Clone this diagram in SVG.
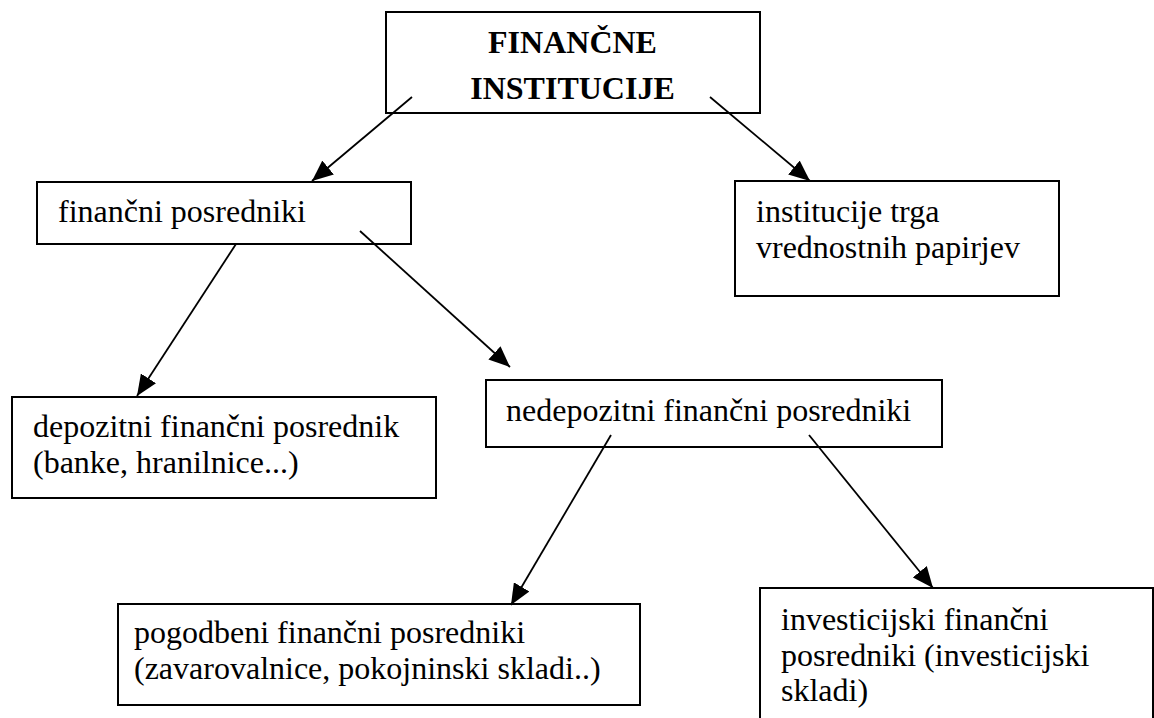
<svg xmlns="http://www.w3.org/2000/svg" width="1154" height="718" viewBox="0 0 1154 718">
<style>
.box{fill:#fff;stroke:#000;stroke-width:2}
.t{font-family:"Liberation Serif","Times New Roman","DejaVu Serif",serif;font-size:32px;fill:#000}
.b{font-weight:bold;text-anchor:middle}
.c{stroke:#000;stroke-width:1.8;fill:none;marker-end:url(#ah)}
</style>
<defs>
<marker id="ah" markerUnits="userSpaceOnUse" markerWidth="22" markerHeight="18" refX="21" refY="9" orient="auto">
<path d="M0,0 L21,9 L0,18 z" fill="#000"/>
</marker>
</defs>
<rect width="1154" height="718" fill="#fff"/>
<g id="n-fin-inst">
<rect class="box" x="386" y="12" width="374" height="101"/>
<text class="t b" x="572.5" y="53">FINANČNE</text>
<text class="t b" x="572.5" y="99">INSTITUCIJE</text>
</g>
<g id="n-fin-posr">
<rect class="box" x="37" y="182" width="374" height="62"/>
<text class="t" x="58" y="222">finančni posredniki</text>
</g>
<g id="n-inst-trga">
<rect class="box" x="735" y="181" width="324" height="115"/>
<text class="t" x="756" y="222">institucije trga</text>
<text class="t" x="756" y="258">vrednostnih papirjev</text>
</g>
<g id="n-depoz">
<rect class="box" x="12" y="397" width="424" height="101"/>
<text class="t" x="33" y="437">depozitni finančni posrednik</text>
<text class="t" x="33" y="473">(banke, hranilnice...)</text>
</g>
<g id="n-nedepoz">
<rect class="box" x="486" y="380" width="456" height="67"/>
<text class="t" x="506" y="421">nedepozitni finančni posredniki</text>
</g>
<g id="n-pogodb">
<rect class="box" x="118" y="604" width="522" height="101"/>
<text class="t" x="134" y="643">pogodbeni finančni posredniki</text>
<text class="t" x="134" y="679">(zavarovalnice, pokojninski skladi..)</text>
</g>
<g id="n-invest">
<rect class="box" x="760" y="588" width="393" height="140"/>
<text class="t" x="781" y="630">investicijski finančni</text>
<text class="t" x="781" y="666">posredniki (investicijski</text>
<text class="t" x="781" y="701">skladi)</text>
</g>
<g id="connectors">
<line class="c" x1="412" y1="97" x2="312" y2="181"/>
<line class="c" x1="710" y1="97" x2="810" y2="181"/>
<line class="c" x1="236" y1="244" x2="137" y2="396"/>
<line class="c" x1="360" y1="231" x2="510" y2="367"/>
<line class="c" x1="611" y1="435" x2="511" y2="605"/>
<line class="c" x1="809" y1="435" x2="933" y2="588"/>
</g>
</svg>
